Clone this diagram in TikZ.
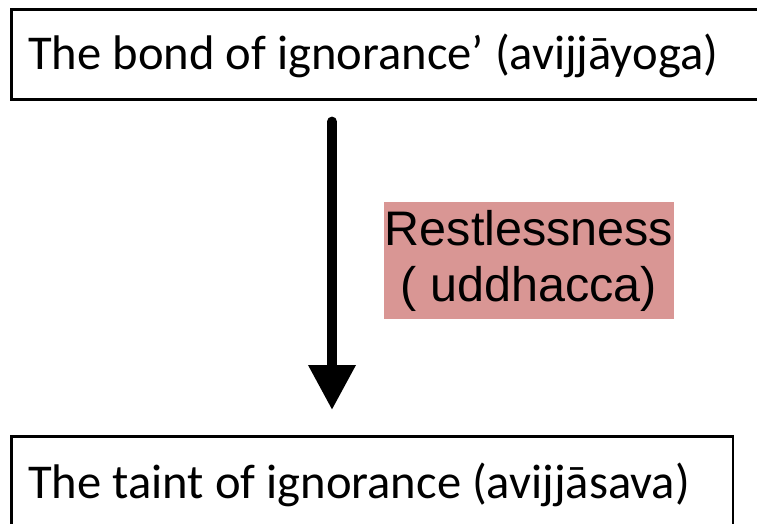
\documentclass[tikz,border=0pt]{standalone}
\usepackage{fontspec}
\setmainfont{Carlito}
\newfontfamily\arialfont{Liberation Sans}
\usetikzlibrary{arrows.meta}
\definecolor{pinkfill}{HTML}{D99694}
\tikzset{
  x=1pt, y=-1pt,
  termbox/.style={draw=black, line width=2.6pt, anchor=north west, inner xsep=17pt, inner ysep=0pt,
    font=\fontsize{48.6}{56}\selectfont},
  causebox/.style={fill=pinkfill, inner sep=0pt, minimum width=290pt, minimum height=117pt,
    align=center, font=\arialfont\fontsize{48.5}{56}\selectfont},
  bigarrow/.style={line width=10pt, line cap=round, -{Triangle[width=45pt,length=45pt]}}
}
\begin{document}
\begin{tikzpicture}
\useasboundingbox (0,0) rectangle (757,524);
\clip (0,0) rectangle (757,524);
\node[termbox, text height=60pt, text depth=30pt] (bond) at (10,8) {The bond of ignorance’ (avijjāyoga)\hspace*{60pt}};
\node[termbox, text height=62pt, text depth=40pt] (taint) at (10,435) {The taint of ignorance (avijjāsava)\hspace*{26pt}};
\node[causebox] (cause) at (529,260.5) {Restlessness\\( uddhacca)};
\coordinate (ax) at (332,0);
\draw[bigarrow, shorten <=21pt, shorten >=25pt] (bond.south -| ax) -- (taint.north -| ax);
\end{tikzpicture}
\end{document}
